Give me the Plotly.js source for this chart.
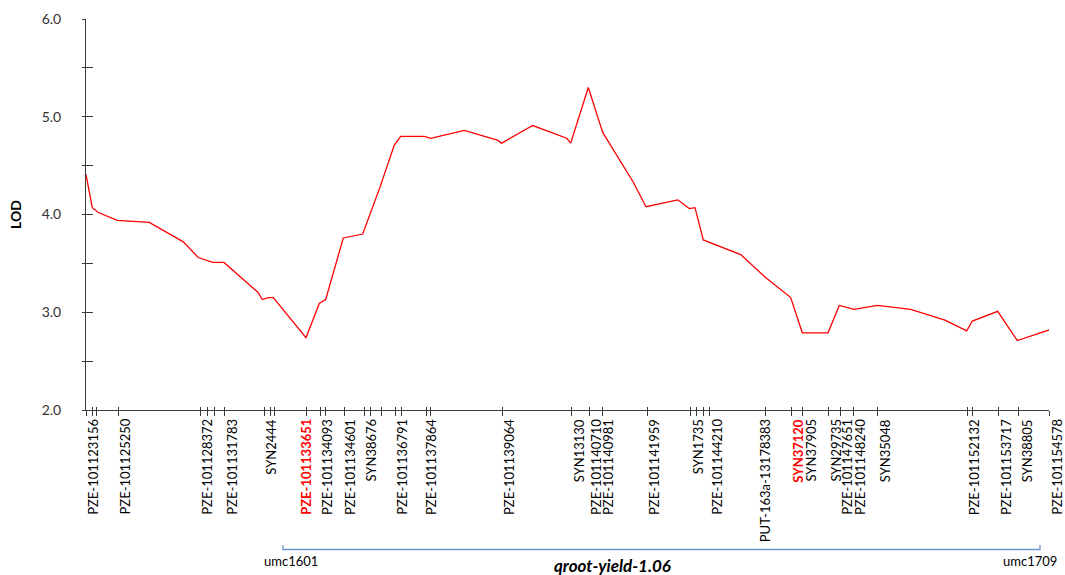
<!DOCTYPE html>
<html>
<head>
<meta charset="utf-8">
<script src="https://cdn.plot.ly/plotly-3.0.1.min.js"></script>
<style>
  html, body { margin: 0; padding: 0; background: #fff; }
  #chart { width: 1065px; height: 575px; }
</style>
</head>
<body>
<div id="chart"></div>
<script>
// LOD profile along the chromosome segment (position in cM)
const lodPos = [0, 0.63, 1.23, 3.13, 6.33, 9.73, 11.23, 12.67, 13.8, 17.23, 17.63, 18.23, 18.73,
  22.0, 23.33, 23.97, 25.73, 27.67, 29.4, 30.83, 31.47, 33.83, 34.47, 37.83, 41.13, 41.57,
  44.67, 48.07, 48.47, 50.23, 51.67, 54.73, 56.0, 59.17, 60.33, 60.9, 61.73, 65.47, 67.9,
  70.47, 71.63, 74.2, 75.33, 76.8, 79.13, 82.47, 85.9, 88.07, 88.63, 91.17, 93.13, 96.33];
const lodVal = [4.41, 4.07, 4.02, 3.94, 3.92, 3.72, 3.56, 3.51, 3.51, 3.20, 3.13, 3.15, 3.15,
  2.74, 3.09, 3.13, 3.76, 3.80, 4.28, 4.71, 4.80, 4.80, 4.78, 4.86, 4.76, 4.73,
  4.91, 4.78, 4.73, 5.30, 4.84, 4.33, 4.08, 4.15, 4.06, 4.07, 3.74, 3.59, 3.36,
  3.15, 2.79, 2.79, 3.07, 3.03, 3.07, 3.03, 2.92, 2.81, 2.91, 3.01, 2.71, 2.82];

// Every marker on the map (tick marks on the position axis)
const markerPos = [0, 0.6, 1.0, 3.2, 11.4, 12.1, 12.8, 13.8, 17.8, 18.4, 18.8, 22.0, 23.4, 23.9,
  25.8, 27.8, 28.4, 29.5, 30.9, 31.5, 34.0, 34.4, 41.6, 48.5, 50.3, 51.6, 56.1, 60.4, 61.0,
  61.7, 62.3, 67.9, 70.5, 71.6, 74.2, 75.4, 76.7, 79.1, 88.1, 88.6, 91.2, 93.2, 96.3];

// Named markers and where their names sit along the axis
const labelNames = ['PZE-101123156', 'PZE-101125250', 'PZE-101128372', 'PZE-101131783', 'SYN2444',
  'PZE-101133651', 'PZE-101134093', 'PZE-101134601', 'SYN38676', 'PZE-101136791', 'PZE-101137864',
  'PZE-101139064', 'SYN13130', 'PZE-101140710', 'PZE-101140981', 'PZE-101141959', 'SYN1735',
  'PZE-101144210', 'PUT-163a-13178383', 'SYN37120', 'SYN37905', 'SYN29735', 'PZE-101147651',
  'PZE-101148240', 'SYN35048', 'PZE-101152132', 'PZE-101153717', 'SYN38805', 'PZE-101154578'];
const labelPos = [0.68, 3.85, 12.07, 14.57, 18.47, 21.98, 24.1, 26.4, 28.4, 31.57, 34.5,
  42.3, 49.27, 51.0, 52.2, 56.8, 61.17, 63.07, 67.87, 71.17, 72.4, 74.9, 76.07,
  77.4, 79.87, 88.83, 92.0, 94.07, 97.07];
const peakMarkers = ['PZE-101133651', 'SYN37120'];

// QTL interval and its flanking markers
const qtlName = 'qroot-yield-1.06';
const flankLeft = 'umc1601';
const flankRight = 'umc1709';
const qtlStart = 19.7;
const qtlEnd = 95.4;
const qtlLabelPos = 52.6;

const yTicks = [2, 3, 4, 5, 6];
const yHalfTicks = [2, 2.5, 3, 3.5, 4, 4.5, 5, 5.5, 6];

const FONT = 'Lato, "Open Sans", sans-serif';
const AXIS_COLOR = '#3a3a3a';
const PLOT_H = 575 - 19 - 165;
const pxBelow = px => -px / PLOT_H;

const xRange = [0, 96.3];
const yRange = [2, 6];
// position along the map -> fraction of the plot width (names may run past the last tick)
const toPaperX = v => (v - xRange[0]) / (xRange[1] - xRange[0]);

const traces = [
  {
    x: lodPos, y: lodVal, type: 'scatter', mode: 'lines',
    line: { color: '#ff0000', width: 1.3 },
    hoverinfo: 'x+y', showlegend: false
  },
  // carrier for the overlaid axes that draw the inner half of each tick
  {
    x: lodPos, y: lodVal, type: 'scatter', mode: 'lines',
    xaxis: 'x2', yaxis: 'y2', line: { color: 'rgba(0,0,0,0)', width: 0 },
    hoverinfo: 'skip', showlegend: false
  }
];

const annotations = labelNames.map((name, i) => {
  const hot = peakMarkers.includes(name);
  return {
    text: hot ? '<b>' + name + '</b>' : name,
    x: toPaperX(labelPos[i]), xref: 'paper',
    y: 0, yref: 'paper', yshift: -7,
    xanchor: 'center', yanchor: 'top',
    textangle: -90, showarrow: false,
    font: { family: FONT, size: 13, color: hot ? '#ff0000' : '#000000' }
  };
});

annotations.push(
  {
    text: flankLeft, x: toPaperX(qtlStart), xref: 'paper', xshift: 8,
    y: 0, yref: 'paper', yshift: -151, xanchor: 'center', yanchor: 'middle',
    showarrow: false, font: { family: FONT, size: 13, color: '#000' }
  },
  {
    text: flankRight, x: toPaperX(qtlEnd), xref: 'paper', xshift: -10,
    y: 0, yref: 'paper', yshift: -151, xanchor: 'center', yanchor: 'middle',
    showarrow: false, font: { family: FONT, size: 13, color: '#000' }
  },
  {
    text: '<b><i>' + qtlName + '</i></b>', x: toPaperX(qtlLabelPos), xref: 'paper',
    y: 0, yref: 'paper', yshift: -155, xanchor: 'center', yanchor: 'middle',
    showarrow: false, font: { family: FONT, size: 17, color: '#000' }
  }
);

// bracket spanning the QTL interval
const yB = pxBelow(139.5), yT = pxBelow(135);
const shapes = [{
  type: 'path', xref: 'x', yref: 'paper',
  path: `M ${qtlStart},${yT} L ${qtlStart},${yB} L ${qtlEnd},${yB} L ${qtlEnd},${yT}`,
  line: { color: '#7094cc', width: 1.3 }
}];

const layout = {
  width: 1065, height: 575,
  margin: { l: 86, r: 16, t: 19, b: 165 },
  paper_bgcolor: '#ffffff', plot_bgcolor: '#ffffff',
  showlegend: false,
  font: { family: FONT, color: '#000' },
  xaxis: {
    range: xRange, showgrid: false, zeroline: false,
    showline: true, linecolor: AXIS_COLOR, linewidth: 1,
    tickmode: 'array', tickvals: markerPos, showticklabels: false,
    ticks: 'outside', ticklen: 5, tickwidth: 1, tickcolor: AXIS_COLOR
  },
  xaxis2: {
    overlaying: 'x', range: xRange, showgrid: false, zeroline: false,
    showline: false, tickmode: 'array', tickvals: markerPos, showticklabels: false,
    ticks: 'inside', ticklen: 3, tickwidth: 1, tickcolor: AXIS_COLOR
  },
  yaxis: {
    range: yRange, showgrid: false, zeroline: false,
    showline: true, linecolor: AXIS_COLOR, linewidth: 1,
    tickmode: 'array', tickvals: yTicks, ticktext: yTicks.map(v => v.toFixed(1)),
    ticks: 'outside', ticklen: 3, tickwidth: 1, tickcolor: AXIS_COLOR,
    ticklabelstandoff: 18,
    minor: { tickmode: 'array', tickvals: yHalfTicks, ticks: 'outside', ticklen: 3, tickwidth: 1, tickcolor: AXIS_COLOR },
    tickfont: { family: FONT, size: 14, color: '#333333' },
    title: { text: 'LOD', font: { family: FONT, size: 14, weight: 'bold', color: '#000' }, standoff: 16 }
  },
  yaxis2: {
    overlaying: 'y', range: yRange, showgrid: false, zeroline: false,
    showline: false, tickmode: 'array', tickvals: yHalfTicks, showticklabels: false,
    ticks: 'inside', ticklen: 7, tickwidth: 1, tickcolor: AXIS_COLOR
  },
  annotations: annotations,
  shapes: shapes
};

Plotly.newPlot('chart', traces, layout, { displayModeBar: false, staticPlot: true });
</script>
</body>
</html>
